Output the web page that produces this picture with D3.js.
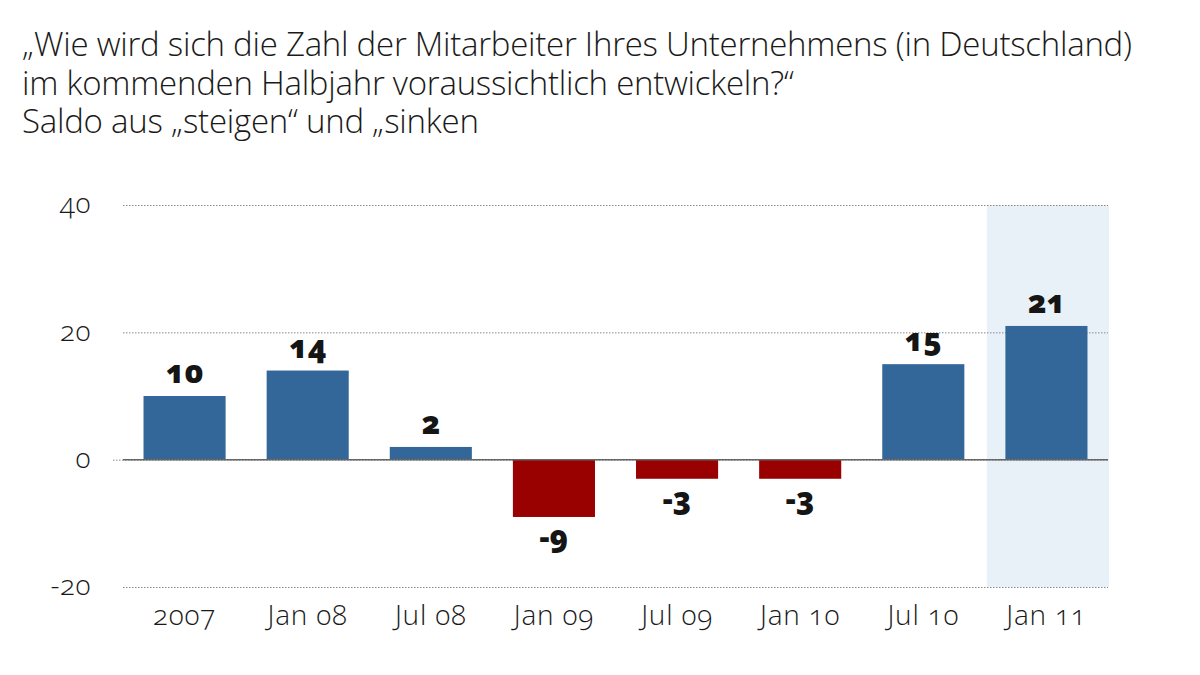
<!DOCTYPE html>
<html>
<head>
<meta charset="utf-8">
<script src="https://cdn.jsdelivr.net/npm/d3@7/dist/d3.min.js"></script>
<style>
  html, body { margin: 0; padding: 0; background: #fff; }
  svg { display: block; }
  text { font-family: "Open Sans", "Lato", sans-serif; font-variant-numeric: oldstyle-nums; font-feature-settings: "onum" 1; }
</style>
</head>
<body>
<svg id="chart" width="1200" height="675"></svg>
<script>
const titleLines = [
  "„Wie wird sich die Zahl der Mitarbeiter Ihres Unternehmens (in Deutschland)",
  "im kommenden Halbjahr voraussichtlich entwickeln?“",
  "Saldo aus „steigen“ und „sinken"
];
const categories = ["2007", "Jan 08", "Jul 08", "Jan 09", "Jul 09", "Jan 10", "Jul 10", "Jan 11"];
const values = [10, 14, 2, -9, -3, -3, 15, 21];
const yTicks = [-20, 0, 20, 40];
const highlighted = ["Jan 11"];

const svg = d3.select("#chart");

// Title: one text block, one tspan per line
const title = svg.append("text")
  .attr("x", 22)
  .attr("y", 56)
  .attr("font-size", 33)
  .attr("font-weight", 300)
  .attr("fill", "#1a1a1a");
const tspans = title.selectAll("tspan")
  .data(titleLines)
  .join("tspan")
  .attr("x", 22)
  .attr("y", (d, i) => 56 + i * 38.5)
  .text(d => d);
// fit the first line to the reference width (~1110px) through letter-spacing
const w0 = tspans.nodes()[0].getComputedTextLength();
const ls = (1110 - w0) / (titleLines[0].length - 1);
title.attr("letter-spacing", ls);

const x = d3.scaleBand()
  .domain(categories)
  .range([123, 1108])
  .paddingInner(1 / 3)
  .paddingOuter(1 / 6);

const y = d3.scaleLinear()
  .domain([-20, 40])
  .range([587, 205]);

// Highlight band
svg.append("g").selectAll("rect")
  .data(highlighted)
  .join("rect")
  .attr("x", d => x(d) - x.step() * x.paddingInner() / 2 + 2)
  .attr("width", d => x.step() - 1)
  .attr("y", y(40))
  .attr("height", y(-20) - y(40))
  .attr("fill", "#e8f0f8");

// Gridlines
svg.append("g").selectAll("line")
  .data(yTicks)
  .join("line")
  .attr("x1", d => d === 0 ? 113 : 123)
  .attr("x2", 1108)
  .attr("y1", d => y(d) + 0.5)
  .attr("y2", d => y(d) + 0.5)
  .attr("stroke", "#8a8a8a")
  .attr("stroke-width", 1)
  .attr("stroke-dasharray", "1.5,1.5");

// Y tick labels
svg.append("g").selectAll("text")
  .data(yTicks)
  .join("text")
  .attr("x", 91)
  .attr("y", d => y(d))
  .attr("dy", "0.3em")
  .attr("text-anchor", "end")
  .attr("font-size", 28)
  .attr("font-weight", 300)
  .attr("letter-spacing", 0.5)
  .attr("fill", "#1a1a1a")
  .text(d => d < 0 ? "-" + Math.abs(d) : d);

// Bars
svg.append("g").selectAll("rect")
  .data(values)
  .join("rect")
  .attr("x", (d, i) => x(categories[i]))
  .attr("width", x.bandwidth())
  .attr("y", d => y(Math.max(0, d)))
  .attr("height", d => Math.abs(y(d) - y(0)))
  .attr("fill", d => d >= 0 ? "#336699" : "#990000");

// Zero line
svg.append("line")
  .attr("x1", 123).attr("x2", 1108)
  .attr("y1", y(0)).attr("y2", y(0))
  .attr("stroke", "#666").attr("stroke-width", 1.5);

// Value labels
svg.append("g").selectAll("text")
  .data(values)
  .join("text")
  .attr("x", (d, i) => x(categories[i]) + x.bandwidth() / 2)
  .attr("y", d => d >= 0 ? y(d) - 13 : y(d) + 31)
  .attr("text-anchor", "middle")
  .attr("font-size", 31)
  .attr("font-weight", 800)
  .attr("fill", "#151515")
  .text(d => d < 0 ? "-" + Math.abs(d) : d);

// X labels
svg.append("g").selectAll("text")
  .data(categories)
  .join("text")
  .attr("x", d => x(d) + x.bandwidth() / 2)
  .attr("y", 625)
  .attr("text-anchor", "middle")
  .attr("font-size", 28)
  .attr("font-weight", 300)
  .attr("letter-spacing", 0.8)
  .attr("fill", "#1a1a1a")
  .text(d => d);
</script>
</body>
</html>
